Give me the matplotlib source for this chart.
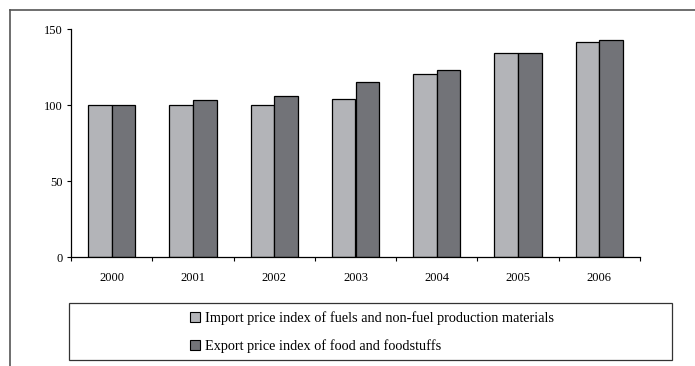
import numpy as np
import matplotlib
matplotlib.use("Agg")
import matplotlib.pyplot as plt
from matplotlib.lines import Line2D
from matplotlib.patches import Rectangle, Patch

years = ["2000", "2001", "2002", "2003", "2004", "2005", "2006"]
import_idx = [100, 100, 100, 104.2, 120.4, 134.3, 141.4]
export_idx = [100, 103, 105.8, 115.3, 123.2, 134.3, 142.8]
labels = ["Import price index of fuels and non-fuel production materials",
          "Export price index of food and foodstuffs"]
colors = ["#b3b4b8", "#727378"]

plt.rcParams["font.family"] = ["Liberation Serif", "DejaVu Serif"]

fig = plt.figure(figsize=(6.95, 3.66), dpi=100)
ax = fig.add_axes([71 / 695, 1 - 257 / 366, 569 / 695, 228 / 366])

x = np.arange(len(years))
w = 0.29
ax.bar(x - w / 2, import_idx, w, color=colors[0], edgecolor="black", linewidth=0.9)
ax.bar(x + w / 2, export_idx, w, color=colors[1], edgecolor="black", linewidth=0.9)

ax.set_xlim(-0.5, len(years) - 0.5)
ax.set_ylim(0, 150)
ax.set_yticks([0, 50, 100, 150])
ax.set_xticks(x)
ax.set_xticklabels(years)
ax.set_xticks(np.arange(len(years) + 1) - 0.5, minor=True)
ax.tick_params(axis="x", which="major", length=0, pad=11, labelsize=9)
ax.tick_params(axis="x", which="minor", length=3, width=0.8, direction="out")
ax.tick_params(axis="y", length=3, width=0.8, direction="out", labelsize=9, pad=3)
for s in ["top", "right"]:
    ax.spines[s].set_visible(False)
for s in ["left", "bottom"]:
    ax.spines[s].set_linewidth(0.9)

# outer frame (only left and top edges visible)
fig.add_artist(Line2D([10 / 695, 10 / 695], [0, 1 - 10 / 366], color="#555555", lw=1.2))
fig.add_artist(Line2D([10 / 695, 1], [1 - 10 / 366, 1 - 10 / 366], color="#555555", lw=1.2))

# legend box
fig.add_artist(Rectangle((69 / 695, 1 - 360 / 366), 603 / 695, 57 / 366,
                         transform=fig.transFigure, fill=False,
                         edgecolor="#333333", lw=0.9))
handles = [Patch(facecolor=c, edgecolor="black", linewidth=0.8) for c in colors]
fig.legend(handles, labels, loc="center", bbox_to_anchor=(372 / 695, 1 - 332 / 366),
           frameon=False, fontsize=10.3, handlelength=0.7, handleheight=0.7,
           handletextpad=0.4, labelspacing=1.0, borderpad=0)

fig.savefig("out.png", dpi=100)
